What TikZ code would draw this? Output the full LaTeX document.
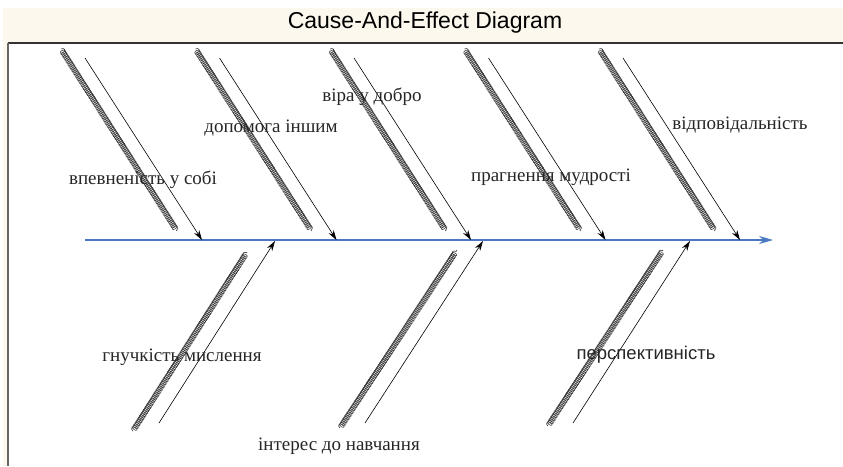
\documentclass[tikz,border=0pt]{standalone}
\usepackage{fontspec}
\setmainfont{Liberation Serif}
\newfontfamily\arialf{Liberation Sans}
\usetikzlibrary{arrows.meta,decorations.pathmorphing}
\definecolor{cream}{HTML}{FDF8EE}
\definecolor{spineblue}{HTML}{4A78C2}
\begin{document}
\begin{tikzpicture}[x=1pt,y=-1pt,
 lbl/.style={font=\fontsize{19}{19}\selectfont, inner sep=0pt, text=black!85},
 bonearrow/.style={draw=black, line width=0.6pt, -{Stealth[length=10pt,width=6pt]}},
 garble/.style={draw=black!75, line width=0.6pt, decorate, decoration={coil, aspect=0.6, segment length=1.8pt, amplitude=2.8pt}},
]
\useasboundingbox (0,0) rectangle (843,466);
\fill[cream] (3,8) rectangle (843,466);
\fill[white] (8,43) rectangle (843,466);
\draw[black!80, line width=1.5pt] (8,43) -- (843,43);
\draw[black!60, line width=2pt] (8,43) -- (8,466);
\node[font=\arialf\fontsize{23}{23}\selectfont, inner sep=0pt] (title) at (425,23) {Cause-And-Effect Diagram};
% spine
\coordinate (s0) at (85,240);
\coordinate (s1) at (773,240);
\draw[spineblue, line width=1.1pt, -{Stealth[length=14pt,width=8pt]}] (s0) -- (s1);
% upper bones
\foreach \i in {0,...,4}{
  \coordinate (ua\i) at ({85+134.5*\i},58);
  \coordinate (ue\i) at ({202+134.5*\i},240);
  \coordinate (ga\i) at ({61+134.5*\i},49);
  \coordinate (gb\i) at ({177+134.5*\i},231);
  \draw[garble] (ga\i) -- (gb\i);
  \draw[bonearrow] (ua\i) -- (ue\i);
}
% lower bones
\coordinate (la0) at (159,423); \coordinate (le0) at (275,241);
\coordinate (la1) at (365,423); \coordinate (le1) at (483,241);
\coordinate (la2) at (573,423); \coordinate (le2) at (690,241);
\coordinate (lga0) at (133,431); \coordinate (lgb0) at (247,252);
\coordinate (lga1) at (340,428); \coordinate (lgb1) at (457,250);
\coordinate (lga2) at (548,426); \coordinate (lgb2) at (663,250);
\foreach \i in {0,1,2}{
  \draw[garble] (lga\i) -- (lgb\i);
  \draw[bonearrow] (la\i) -- (le\i);
}
% labels
\node[lbl] (t1) at (143,180) {впевненість у собі};
\node[lbl] (t2) at (271,128) {допомога іншим};
\node[lbl] (t3) at (372,97) {віра у добро};
\node[lbl] (t4) at (551,177) {прагнення мудрості};
\node[lbl] (t5) at (740,125) {відповідальність};
\node[lbl] (t6) at (182,357) {гнучкість мислення};
\node[lbl] (t7) at (339,446) {інтерес до навчання};
\node[lbl, font=\arialf\fontsize{18.5}{18.5}\selectfont] (t8) at (646,355) {перспективність};
\end{tikzpicture}
\end{document}
